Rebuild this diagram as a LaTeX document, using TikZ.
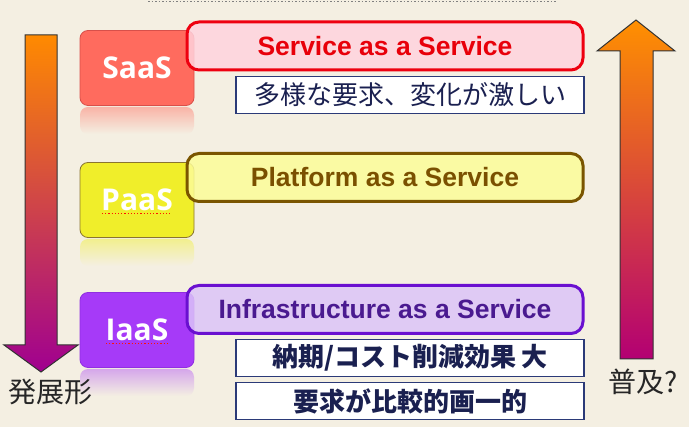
\documentclass[tikz,border=0pt]{standalone}
\usepackage{fontspec}
\setmainfont{Liberation Sans}
\newfontfamily\cjk{Noto Sans CJK JP}
\newfontfamily\osans{Open Sans}
\usetikzlibrary{calc}
\definecolor{bg}{HTML}{F4EFE2}
\definecolor{navy}{HTML}{2B3A78}
\definecolor{ink}{HTML}{1A2050}
\definecolor{saasfill}{HTML}{FF6B5E}
\definecolor{saasline}{HTML}{D8504A}
\definecolor{paasfill}{HTML}{F0EE2A}
\definecolor{paasline}{HTML}{8A7530}
\definecolor{iaasfill}{HTML}{A63AF8}
\definecolor{iaasline}{HTML}{9030E0}
\definecolor{svcfill}{HTML}{FFD3DE}
\definecolor{svcline}{HTML}{EE0010}
\definecolor{svctext}{HTML}{E8000A}
\definecolor{platfill}{HTML}{FCFC98}
\definecolor{platline}{HTML}{7A5500}
\definecolor{plattext}{HTML}{7A5000}
\definecolor{inffill}{HTML}{DCC4F8}
\definecolor{infline}{HTML}{6A10D0}
\definecolor{inftext}{HTML}{4A1A90}
\definecolor{orng}{HTML}{FF8A00}
\definecolor{midred}{HTML}{E8583C}
\definecolor{magent}{HTML}{A00090}
\tikzset{
  smallbox/.style={rounded corners=8pt, minimum width=114pt, minimum height=75pt,
    draw, line width=0.8pt, text=white, inner sep=0pt,
    font=\osans\bfseries\fontsize{30}{30}\selectfont},
  titlebox/.style={rounded corners=12pt, minimum width=396pt, minimum height=48pt,
    draw, line width=3pt, fill opacity=0.85, text opacity=1, inner sep=0pt,
    font=\bfseries\fontsize{26.5}{26.5}\selectfont},
  notebox/.style={draw=navy, line width=1.2pt, fill=white, minimum width=348pt,
    minimum height=37pt, inner sep=0pt, text=ink},
  jlabel/.style={font=\cjk\fontsize{28}{28}\selectfont, text=black!85, inner sep=0pt},
  arrowline/.style={draw=black!80, line width=1pt, line join=miter},
  squiggle/.style={draw=red!85!orange, line width=1.2pt, dotted}
}
\begin{document}
\begin{tikzpicture}[x=1pt,y=-1pt]
\fill[bg] (0,0) rectangle (689,427);
\useasboundingbox (0,0) rectangle (689,427);
% top dotted rule
\coordinate (rl) at (148,1.5);
\coordinate (rr) at (556,1.5);
\draw[gray, line width=1.5pt, dotted] (rl) -- (rr);

% left arrow (down)
\shade[top color=orng, middle color=midred, bottom color=magent]
  (25,35) -- (57,35) -- (57,345) -- (78,345) -- (41,372) -- (4,345) -- (25,345) -- cycle;
\draw[arrowline] (25,35) -- (57,35) -- (57,345) -- (78,345) -- (41,372) -- (4,345) -- (25,345) -- cycle;
% right arrow (up)
\shade[top color=orng!95!yellow, middle color=midred, bottom color=magent!80!red]
  (620,359) -- (653,359) -- (653,51) -- (675,51) -- (636,20) -- (597,51) -- (620,51) -- cycle;
\draw[arrowline] (620,359) -- (653,359) -- (653,51) -- (675,51) -- (636,20) -- (597,51) -- (620,51) -- cycle;

% reflections
\shade[top color=saasfill!45!bg, bottom color=bg, rounded corners=8pt] (80,107) rectangle (194,134);
\shade[top color=paasfill!45!bg, bottom color=bg, rounded corners=8pt] (80,239) rectangle (194,266);
\shade[top color=iaasfill!40!bg, bottom color=bg, rounded corners=8pt] (80,369) rectangle (194,396);

% small boxes
\node[smallbox, fill=saasfill, draw=saasline] (saas) at (137,68) {SaaS};
\node[smallbox, fill=paasfill, draw=paasline] (paas) at (137,200) {PaaS};
\node[smallbox, fill=iaasfill, draw=iaasline] (iaas) at (137,330) {IaaS};
\draw[squiggle] ($(paas.center)+(-35,13.5)$) -- ($(paas.center)+(35,13.5)$);
\draw[squiggle] ($(iaas.center)+(-31,13.5)$) -- ($(iaas.center)+(31,13.5)$);

% title boxes
\node[titlebox, fill=svcfill, draw=svcline, text=svctext] (svc) at (385,46) {Service as a Service};
\node[titlebox, fill=platfill, draw=platline, text=plattext] (plat) at (385,177.5) {Platform as a Service};
\node[titlebox, fill=inffill, draw=infline, text=inftext] (inf) at (385,309.5) {Infrastructure as a Service};

% note boxes
\node[notebox, font=\cjk\fontsize{26}{26}\selectfont] (n1) at (410,95) {多様な要求、変化が激しい};
\node[notebox, font=\cjk\bfseries\fontsize{26}{26}\selectfont] (n2) at (410,358) {納期/コスト削減効果 大};
\node[notebox, font=\cjk\bfseries\fontsize{26}{26}\selectfont] (n3) at (410,401) {要求が比較的画一的};

% side labels
\node[jlabel] (dev) at (51,392) {発展形};
\node[jlabel] (pop) at (643,382) {普及?};
\end{tikzpicture}
\end{document}
